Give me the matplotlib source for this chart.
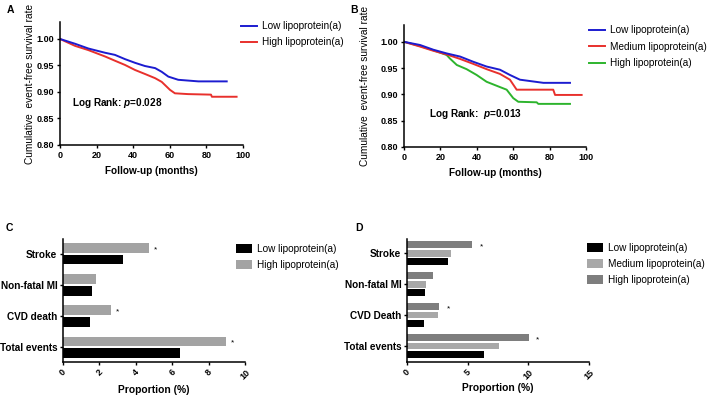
import numpy as np
import matplotlib
matplotlib.use("Agg")
import matplotlib.pyplot as plt

plt.rcParams['font.family'] = ['Liberation Sans', 'DejaVu Sans']
plt.rcParams['mathtext.fontset'] = 'custom'
plt.rcParams['mathtext.it'] = 'Liberation Sans:italic:bold'
plt.rcParams['mathtext.rm'] = 'Liberation Sans:bold'

# ---- panel A: Kaplan-Meier, two groups ----
a_low_t = [0, 8.2, 15.5, 24.6, 30, 35.5, 41, 46.4, 52, 55.6, 59.2, 64.6, 75.6, 91.1]
a_low_s = [1.0, 0.991, 0.982, 0.974, 0.970, 0.962, 0.955, 0.949, 0.945, 0.938, 0.929, 0.923, 0.920, 0.920]
a_high_t = [0, 8.2, 15.5, 24.6, 30, 35.5, 41, 46.4, 52, 55.6, 60.1, 62.8, 70, 82.5, 83, 96.5]
a_high_s = [1.0, 0.987, 0.979, 0.967, 0.959, 0.951, 0.9415, 0.934, 0.926, 0.919, 0.904, 0.8975, 0.896, 0.895, 0.891, 0.891]

# ---- panel B: Kaplan-Meier, three groups ----
b_low_t = [0, 8.8, 16.1, 23.4, 30.8, 38.1, 45.4, 52.7, 58.2, 63.7, 76.6, 91.2]
b_low_s = [1.0, 0.994, 0.985, 0.978, 0.972, 0.962, 0.953, 0.947, 0.937, 0.928, 0.922, 0.922]
b_med_t = [0, 8.8, 16.1, 23.4, 30.8, 38.1, 45.4, 52.7, 58.2, 61.9, 82, 83, 97.6]
b_med_s = [1.0, 0.991, 0.983, 0.976, 0.9675, 0.958, 0.948, 0.939, 0.928, 0.909, 0.909, 0.899, 0.899]
b_high_t = [0, 8.8, 16.1, 23.4, 25.3, 29, 34.4, 39.9, 45.4, 52.7, 56.4, 60, 62.8, 72.9, 73.8, 91.2]
b_high_s = [1.0, 0.992, 0.984, 0.975, 0.968, 0.956, 0.948, 0.937, 0.924, 0.914, 0.909, 0.893, 0.886, 0.885, 0.882, 0.882]

# ---- panels C / D: event proportions (%) ----
c_categories = ['Stroke', 'Non-fatal MI', 'CVD death', 'Total events']
c_low = [3.31, 1.60, 1.49, 6.43]
c_high = [4.71, 1.80, 2.63, 8.95]
c_star = [True, False, True, True]

d_categories = ['Stroke', 'Non-fatal MI', 'CVD Death', 'Total events']
d_low = [3.34, 1.52, 1.41, 6.34]
d_med = [3.64, 1.60, 2.54, 7.58]
d_high = [5.35, 2.12, 2.65, 10.03]
d_star = [True, False, True, True]

W, H = 709, 398
fig = plt.figure(figsize=(W / 100, H / 100), dpi=100)


def rect(left, top, right, bottom):
    return [left / W, 1 - bottom / H, (right - left) / W, (bottom - top) / H]


def style_axes(ax):
    for s in ['top', 'right']:
        ax.spines[s].set_visible(False)
    for s in ['left', 'bottom']:
        ax.spines[s].set_linewidth(1.1)
    ax.tick_params(direction='out', length=2.5, width=1.0, labelsize=6.5, pad=1.5)
    for lab in ax.get_xticklabels() + ax.get_yticklabels():
        lab.set_fontweight('bold')


def km_panel(ax, curves, pval, ptxt_xy, ylab_x, xlab_y):
    for t, s, c, lab in curves:
        ax.plot(t, s, color=c, lw=1.4, label=lab)
    ax.set_xlim(0, 100)
    ax.set_ylim(0.80, 1.032)
    ax.set_xticks([0, 20, 40, 60, 80, 100])
    ax.set_yticks([0.80, 0.85, 0.90, 0.95, 1.00])
    ax.set_yticklabels(['%.2f' % v for v in [0.80, 0.85, 0.90, 0.95, 1.00]])
    style_axes(ax)
    ax.set_ylabel('Cumulative  event-free survival rate', fontsize=7.3, va='center')
    ax.yaxis.set_label_coords(ylab_x, 0.5)
    ax.set_xlabel('Follow-up (months)', fontsize=7.2, fontweight='bold', va='center')
    ax.xaxis.set_label_coords(0.5, xlab_y)
    ax.text(ptxt_xy[0], ptxt_xy[1], pval, fontsize=7.2, fontweight='bold', va='center')


axA = fig.add_axes(rect(60, 22, 243, 145))
km_panel(axA,
         [(a_high_t, a_high_s, '#e8302c', 'High lipoprotein(a)'),
          (a_low_t, a_low_s, '#1c1cd0', 'Low lipoprotein(a)')],
         r'Log Rank: $p$=0.028', (6.4, 0.879), -0.164, -0.209)
h, l = axA.get_legend_handles_labels()
fig.legend(h[::-1], l[::-1], loc='upper left', bbox_to_anchor=(236 / W, 1 - 16 / H),
           frameon=False, fontsize=7.2, handlelength=1.6, handletextpad=0.5,
           labelspacing=0.6, borderpad=0)

axB = fig.add_axes(rect(404, 25, 586, 147))
km_panel(axB,
         [(b_high_t, b_high_s, '#2db42d', 'High lipoprotein(a)'),
          (b_med_t, b_med_s, '#e8302c', 'Medium lipoprotein(a)'),
          (b_low_t, b_low_s, '#1c1cd0', 'Low lipoprotein(a)')],
         r'Log Rank:  $p$=0.013', (13.7, 0.863), -0.215, -0.217)
h, l = axB.get_legend_handles_labels()
fig.legend(h[::-1], l[::-1], loc='upper left', bbox_to_anchor=(584 / W, 1 - 20 / H),
           frameon=False, fontsize=7.2, handlelength=1.6, handletextpad=0.5,
           labelspacing=0.65, borderpad=0)


def bar_panel(ax, cats, series, colors, labels, offsets, height, stars, star_off,
              xmax, xticks, ylim, xlab_y):
    y = np.arange(len(cats))
    for vals, c, lab, off in zip(series, colors, labels, offsets):
        ax.barh(y + off, vals, height=height, color=c, label=lab)
    top = series[-1]
    for i, flag in enumerate(stars):
        if flag:
            ax.annotate('*', (top[i], y[i] + offsets[-1]), xytext=(star_off, -1.5),
                        textcoords='offset points', fontsize=6, va='center', ha='left')
    ax.set_yticks(y)
    ax.set_yticklabels(cats, fontsize=7.2, fontweight='bold')
    ax.set_ylim(*ylim)
    ax.set_xlim(0, xmax)
    ax.set_xticks(xticks)
    style_axes(ax)
    ax.tick_params(axis='y', labelsize=7.2)
    for lab in ax.get_xticklabels():
        lab.set_rotation(45)
        lab.set_ha('center')
    ax.set_xlabel('Proportion (%)', fontsize=7.4, fontweight='bold', va='center')
    ax.xaxis.set_label_coords(0.5, xlab_y)


axC = fig.add_axes(rect(63, 239, 245, 362))
bar_panel(axC, c_categories, [c_low, c_high], ['#000000', '#a3a3a3'],
          ['Low lipoprotein(a)', 'High lipoprotein(a)'], [0.19, -0.19], 0.30,
          c_star, 3.5, 10, [0, 2, 4, 6, 8, 10], (3.48, -0.48), -0.228)
h, l = axC.get_legend_handles_labels()
fig.legend(h, l, loc='upper left', bbox_to_anchor=(231 / W, 1 - 239 / H),
           frameon=False, fontsize=7.2, handlelength=1.6, handleheight=0.9,
           handletextpad=0.5, labelspacing=0.6, borderpad=0)

axD = fig.add_axes(rect(407, 239, 589, 362))
bar_panel(axD, d_categories, [d_low, d_med, d_high], ['#000000', '#a8a8a8', '#7e7e7e'],
          ['Low lipoprotein(a)', 'Medium lipoprotein(a)', 'High lipoprotein(a)'],
          [0.27, 0.0, -0.27], 0.22, d_star, 5.5, 15, [0, 5, 10, 15],
          (3.52, -0.46), -0.214)
h, l = axD.get_legend_handles_labels()
fig.legend(h, l, loc='upper left', bbox_to_anchor=(582 / W, 1 - 238 / H),
           frameon=False, fontsize=7.2, handlelength=1.6, handleheight=0.9,
           handletextpad=0.5, labelspacing=0.6, borderpad=0)

# panel letters
for letter, (px, py) in zip('ABCD', [(10, 10), (354, 10), (9, 228), (359, 228)]):
    fig.text(px / W, 1 - py / H, letter, fontsize=7.5, fontweight='bold',
             ha='center', va='center')

fig.savefig('out.png', dpi=100)
